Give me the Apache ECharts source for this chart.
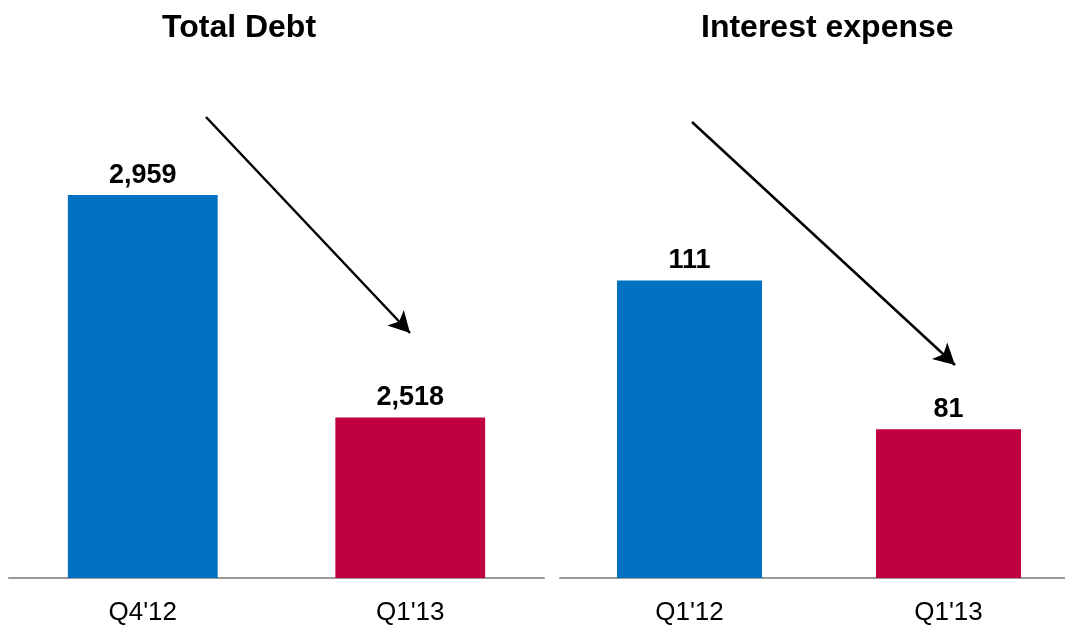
<!DOCTYPE html>
<html>
<head>
<meta charset="utf-8">
<script src="https://cdn.jsdelivr.net/npm/echarts@6/dist/echarts.min.js"></script>
<style>
  html, body { margin: 0; padding: 0; background: #fff; overflow: hidden; }
  /* 右侧坐标轴在原图中超出画布，所以容器比窗口略宽 */
  #chart { width: 1078px; height: 626px; }
</style>
</head>
<body>
<div id="chart"></div>
<script>
// 数据
const debtCategories = ["Q4'12", "Q1'13"]
const debtValues = [2959, 2518]
const interestCategories = ["Q1'12", "Q1'13"]
const interestValues = [111, 81]
const barColors = ['#0070C0', '#C00040']

const FONT = 'Liberation Sans, Arial, sans-serif'
const myChart = echarts.init(document.getElementById('chart'))

function barData(values) {
  return values.map((v, i) => ({ value: v, itemStyle: { color: barColors[i] } }))
}

const labelStyle = {
  show: true,
  position: 'top',
  distance: 6,
  color: '#000',
  fontWeight: 'bold',
  fontSize: 27,
  fontFamily: FONT,
  formatter: function (p) {
    return p.value.toLocaleString('en-US')
  },
}

const arrowLine = {
  silent: true,
  symbol: ['none', 'arrow'],
  symbolSize: [17, 21],
  label: { show: false },
  lineStyle: { color: '#000', width: 2.5, type: 'solid' },
}

const xAxisBase = {
  type: 'category',
  axisTick: { show: false },
  axisLine: { lineStyle: { color: '#999', width: 2 } },
  axisLabel: { color: '#000', fontSize: 26, margin: 22, fontFamily: FONT },
}

myChart.setOption({
  animation: false,
  title: [
    {
      text: 'Total Debt',
      left: 157,
      top: 7,
      textStyle: { color: '#000', fontWeight: 'bold', fontSize: 32, fontFamily: FONT },
    },
    {
      text: 'Interest expense',
      left: 696,
      top: 7,
      textStyle: { color: '#000', fontWeight: 'bold', fontSize: 32, fontFamily: FONT },
    },
  ],
  grid: [
    { left: 9, width: 535, top: 100, bottom: 47 },
    { left: 560, width: 518, top: 100, bottom: 47 },
  ],
  xAxis: [
    Object.assign({}, xAxisBase, { gridIndex: 0, data: debtCategories }),
    Object.assign({}, xAxisBase, { gridIndex: 1, data: interestCategories }),
  ],
  yAxis: [
    { type: 'value', gridIndex: 0, min: 2200, max: 3147, show: false, splitLine: { show: false } },
    { type: 'value', gridIndex: 1, min: 51, max: 147.4, show: false, splitLine: { show: false } },
  ],
  series: [
    {
      type: 'bar',
      xAxisIndex: 0,
      yAxisIndex: 0,
      barWidth: '56%',
      data: barData(debtValues),
      label: labelStyle,
      markLine: Object.assign({}, arrowLine, {
        data: [[{ x: 206, y: 117 }, { x: 410, y: 333 }]],
      }),
    },
    {
      type: 'bar',
      xAxisIndex: 1,
      yAxisIndex: 1,
      barWidth: '56%',
      data: barData(interestValues),
      label: labelStyle,
      markLine: Object.assign({}, arrowLine, {
        data: [[{ x: 692, y: 122 }, { x: 955, y: 365 }]],
      }),
    },
  ],
})
</script>
</body>
</html>
